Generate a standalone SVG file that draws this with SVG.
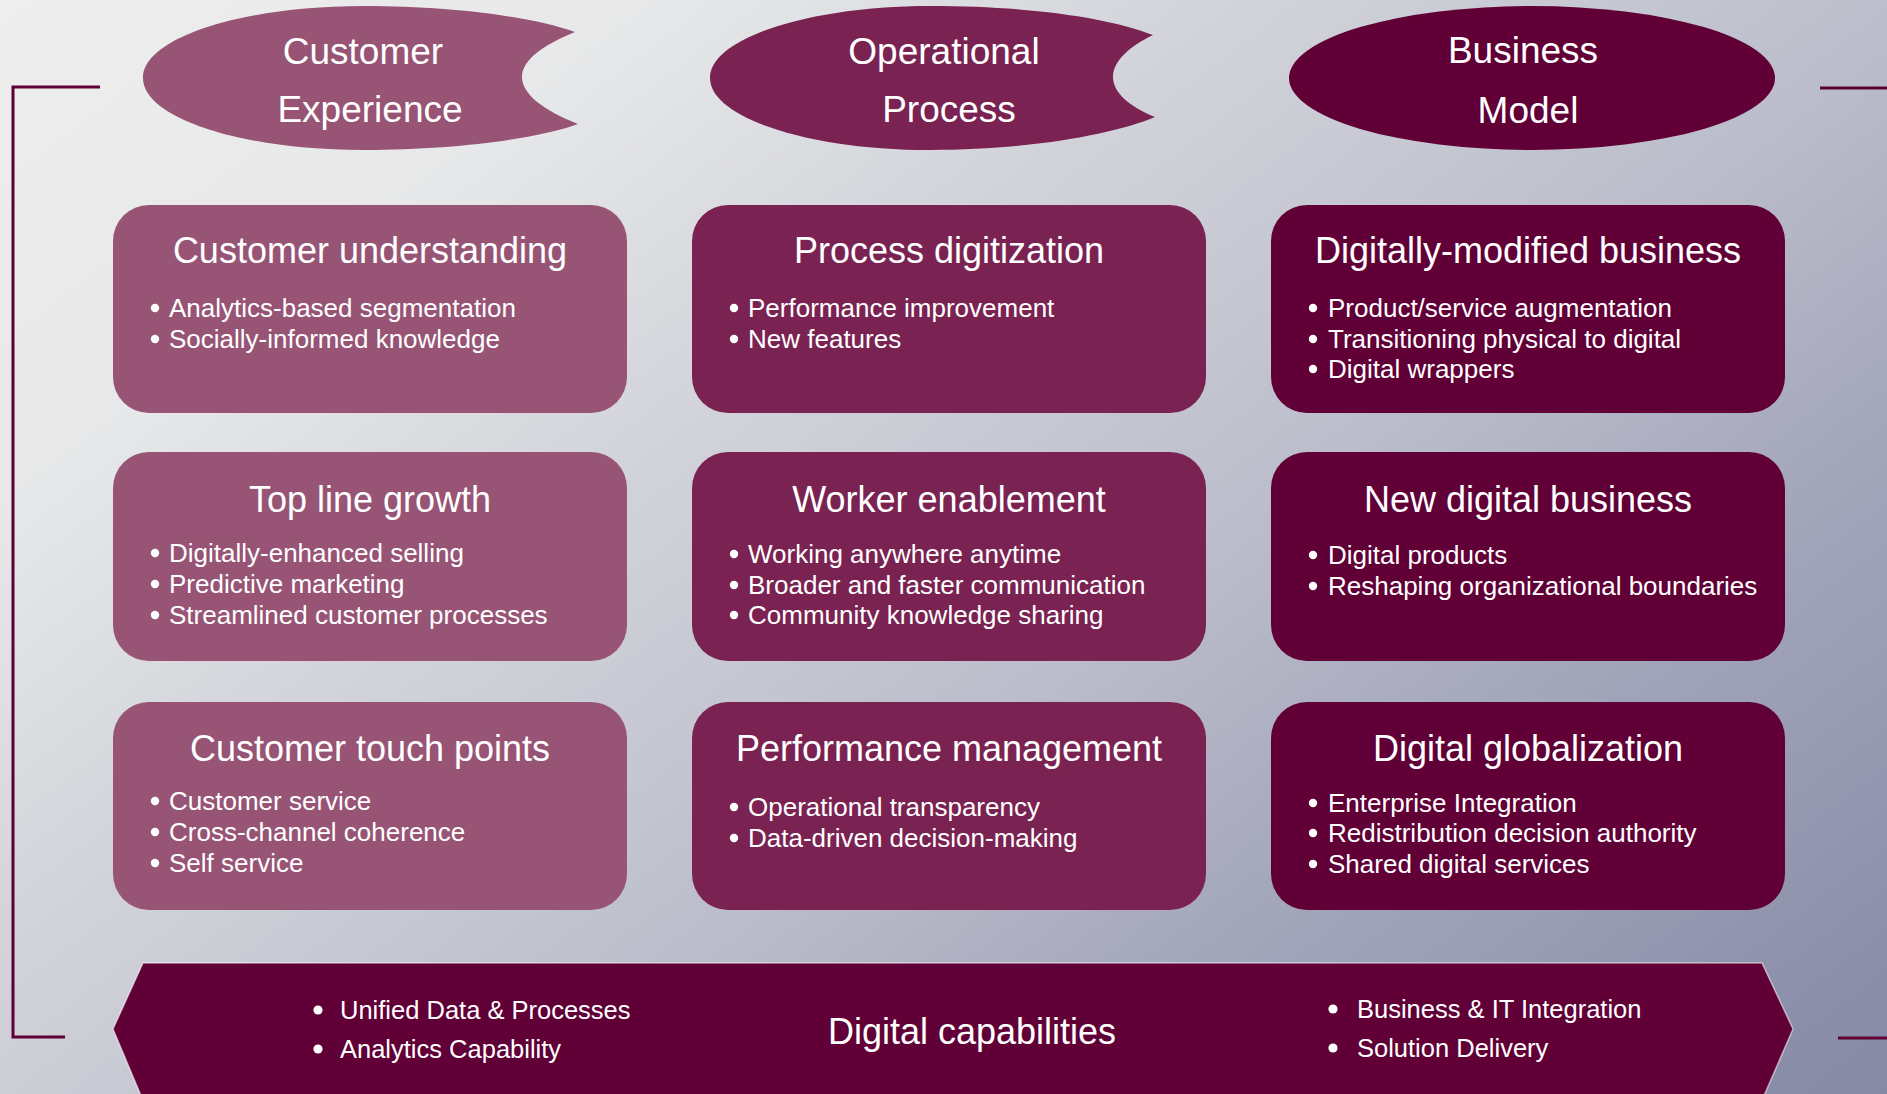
<svg xmlns="http://www.w3.org/2000/svg" width="1887" height="1094" viewBox="0 0 1887 1094">
<defs>
<linearGradient id="bg" gradientUnits="userSpaceOnUse" x1="0" y1="0" x2="1230" y2="1599">
<stop offset="0" stop-color="#eeeeee"/>
<stop offset="0.2" stop-color="#e7e8e9"/>
<stop offset="0.36" stop-color="#d4d5db"/>
<stop offset="0.59" stop-color="#babcca"/>
<stop offset="0.73" stop-color="#a5a8bb"/>
<stop offset="0.95" stop-color="#8b8ea9"/>
<stop offset="1" stop-color="#878aa6"/>
</linearGradient>
<style>
.c1{fill:#975475}
.c2{fill:#7a2352}
.c3{fill:#600036}
.dot{fill:#ffffff}
text{font-family:"Liberation Sans",Arial,Helvetica,sans-serif;fill:#ffffff}
.hd{font-size:37px;text-anchor:middle}
.tt{font-size:36px;text-anchor:middle}
.bl{font-size:26px}
.bb{font-size:25.5px}
.br{fill:none;stroke:#5e0035;stroke-width:3}
</style>
</defs>
<rect x="0" y="0" width="1887" height="1094" fill="url(#bg)"/>

<g id="connectors">
<path class="br" d="M100,87 H13 V1037 H65"/>
<path class="br" d="M1820,88 H1887"/>
<path class="br" d="M1838,1038 H1887"/>
</g>

<g id="header-customer-experience">
<path class="c1" d="M575,32 C535,18 460,6 363,6 C242,6 143,38 143,78 C143,118 242,150 363,150 C460,150 540,138 578,124 C543,110 522,94 522,77 C522,60 543,45 575,32 Z"/>
<text class="hd" x="363" y="64">Customer</text>
<text class="hd" x="370" y="122">Experience</text>
</g>

<g id="header-operational-process">
<path class="c2" d="M1153,35 C1110,18 1030,6 930,6 C810,6 710,38 710,78 C710,118 810,150 930,150 C1030,150 1115,134 1155,117 C1128,106 1113,92 1113,77 C1113,62 1128,47 1153,35 Z"/>
<text class="hd" x="944" y="64">Operational</text>
<text class="hd" x="949" y="122">Process</text>
</g>

<g id="header-business-model">
<ellipse class="c3" cx="1532" cy="78" rx="243" ry="72"/>
<text class="hd" x="1523" y="63">Business</text>
<text class="hd" x="1528" y="123">Model</text>
</g>

<g id="customer-understanding">
<rect class="c1" x="113" y="205" width="514" height="208" rx="36"/>
<text class="tt" x="370" y="263">Customer understanding</text>
<circle class="dot" cx="155" cy="308" r="4.2"/><text class="bl" x="169" y="317">Analytics-based segmentation</text>
<circle class="dot" cx="155" cy="339" r="4.2"/><text class="bl" x="169" y="348">Socially-informed knowledge</text>
</g>

<g id="process-digitization">
<rect class="c2" x="692" y="205" width="514" height="208" rx="36"/>
<text class="tt" x="949" y="263">Process digitization</text>
<circle class="dot" cx="734" cy="308" r="4.2"/><text class="bl" x="748" y="317">Performance improvement</text>
<circle class="dot" cx="734" cy="339" r="4.2"/><text class="bl" x="748" y="348">New features</text>
</g>

<g id="digitally-modified-business">
<rect class="c3" x="1271" y="205" width="514" height="208" rx="36"/>
<text class="tt" x="1528" y="263">Digitally-modified business</text>
<circle class="dot" cx="1313" cy="308" r="4.2"/><text class="bl" x="1328" y="317">Product/service augmentation</text>
<circle class="dot" cx="1313" cy="339" r="4.2"/><text class="bl" x="1328" y="348">Transitioning physical to digital</text>
<circle class="dot" cx="1313" cy="369" r="4.2"/><text class="bl" x="1328" y="378">Digital wrappers</text>
</g>

<g id="top-line-growth">
<rect class="c1" x="113" y="452" width="514" height="209" rx="36"/>
<text class="tt" x="370" y="512">Top line growth</text>
<circle class="dot" cx="155" cy="553" r="4.2"/><text class="bl" x="169" y="562">Digitally-enhanced selling</text>
<circle class="dot" cx="155" cy="584" r="4.2"/><text class="bl" x="169" y="593">Predictive marketing</text>
<circle class="dot" cx="155" cy="615" r="4.2"/><text class="bl" x="169" y="624">Streamlined customer processes</text>
</g>

<g id="worker-enablement">
<rect class="c2" x="692" y="452" width="514" height="209" rx="36"/>
<text class="tt" x="949" y="512">Worker enablement</text>
<circle class="dot" cx="734" cy="554" r="4.2"/><text class="bl" x="748" y="563">Working anywhere anytime</text>
<circle class="dot" cx="734" cy="585" r="4.2"/><text class="bl" x="748" y="594">Broader and faster communication</text>
<circle class="dot" cx="734" cy="615" r="4.2"/><text class="bl" x="748" y="624">Community knowledge sharing</text>
</g>

<g id="new-digital-business">
<rect class="c3" x="1271" y="452" width="514" height="209" rx="36"/>
<text class="tt" x="1528" y="512">New digital business</text>
<circle class="dot" cx="1313" cy="555" r="4.2"/><text class="bl" x="1328" y="564">Digital products</text>
<circle class="dot" cx="1313" cy="586" r="4.2"/><text class="bl" x="1328" y="595">Reshaping organizational boundaries</text>
</g>

<g id="customer-touch-points">
<rect class="c1" x="113" y="702" width="514" height="208" rx="36"/>
<text class="tt" x="370" y="761">Customer touch points</text>
<circle class="dot" cx="155" cy="801" r="4.2"/><text class="bl" x="169" y="810">Customer service</text>
<circle class="dot" cx="155" cy="832" r="4.2"/><text class="bl" x="169" y="841">Cross-channel coherence</text>
<circle class="dot" cx="155" cy="863" r="4.2"/><text class="bl" x="169" y="872">Self service</text>
</g>

<g id="performance-management">
<rect class="c2" x="692" y="702" width="514" height="208" rx="36"/>
<text class="tt" x="949" y="761">Performance management</text>
<circle class="dot" cx="734" cy="807" r="4.2"/><text class="bl" x="748" y="816">Operational transparency</text>
<circle class="dot" cx="734" cy="838" r="4.2"/><text class="bl" x="748" y="847">Data-driven decision-making</text>
</g>

<g id="digital-globalization">
<rect class="c3" x="1271" y="702" width="514" height="208" rx="36"/>
<text class="tt" x="1528" y="761">Digital globalization</text>
<circle class="dot" cx="1313" cy="803" r="4.2"/><text class="bl" x="1328" y="812">Enterprise Integration</text>
<circle class="dot" cx="1313" cy="833" r="4.2"/><text class="bl" x="1328" y="842">Redistribution decision authority</text>
<circle class="dot" cx="1313" cy="864" r="4.2"/><text class="bl" x="1328" y="873">Shared digital services</text>
</g>

<g id="digital-capabilities">
<path class="c3" d="M113,1029 L143,963 L1762,963 L1793,1029 L1763,1098 L142,1098 Z" stroke="#ffffff" stroke-opacity="0.55" stroke-width="1.5"/>
<text class="tt" x="972" y="1044">Digital capabilities</text>
<circle class="dot" cx="318" cy="1010" r="4.6"/><text class="bb" x="340" y="1019">Unified Data &amp; Processes</text>
<circle class="dot" cx="318" cy="1049" r="4.6"/><text class="bb" x="340" y="1058">Analytics Capability</text>
<circle class="dot" cx="1333" cy="1009" r="4.6"/><text class="bb" x="1357" y="1018">Business &amp; IT Integration</text>
<circle class="dot" cx="1333" cy="1048" r="4.6"/><text class="bb" x="1357" y="1057">Solution Delivery</text>
</g>
</svg>
